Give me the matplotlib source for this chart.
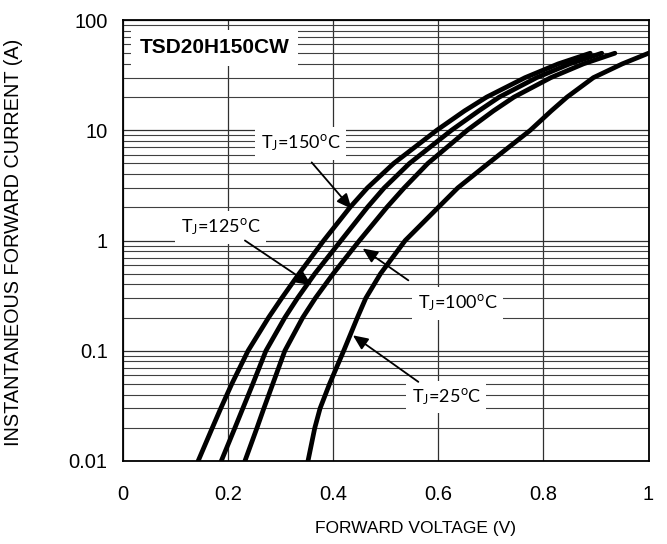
import numpy as np
import matplotlib
matplotlib.use("Agg")
import matplotlib.pyplot as plt
from matplotlib.ticker import LogLocator, FixedLocator, NullFormatter

plt.rcParams['font.family'] = ['Liberation Sans', 'DejaVu Sans']
plt.rcParams['mathtext.fontset'] = 'custom'
plt.rcParams['mathtext.rm'] = 'Lato'

# forward current points (A)
current = [0.01, 0.02, 0.03, 0.05, 0.1, 0.2, 0.3, 0.5, 1, 2, 3, 5, 10, 15, 20, 30, 40, 50]

# forward voltage (V) for each junction temperature
vf_150 = [0.143, 0.170, 0.186, 0.207, 0.238, 0.277, 0.302, 0.335, 0.382, 0.432, 0.465,
          0.515, 0.597, 0.650, 0.692, 0.765, 0.828, 0.889]
vf_125 = [0.187, 0.213, 0.228, 0.247, 0.272, 0.308, 0.332, 0.365, 0.415, 0.465, 0.497,
          0.545, 0.625, 0.677, 0.716, 0.787, 0.850, 0.911]
vf_100 = [0.232, 0.255, 0.268, 0.285, 0.308, 0.342, 0.366, 0.400, 0.450, 0.502, 0.535,
          0.580, 0.655, 0.705, 0.744, 0.814, 0.876, 0.936]
vf_25 = [0.352, 0.365, 0.375, 0.393, 0.420, 0.446, 0.462, 0.490, 0.537, 0.600, 0.637,
         0.695, 0.775, 0.815, 0.845, 0.895, 0.950, 1.0]

x_ticks = [0, 0.2, 0.4, 0.6, 0.8, 1]
x_labels = ['0', '0.2', '0.4', '0.6', '0.8', '1']
y_ticks = [0.01, 0.1, 1, 10, 100]
y_labels = ['0.01', '0.1', '1', '10', '100']

# label text, text position, arrow start, arrow tip
labels = [
    ('150', (0.338, 7.55), (0.359, 5.11), (0.435, 1.94)),
    ('125', (0.186, 1.32), (0.232, 1.0), (0.359, 0.392)),
    ('100', (0.637, 0.269), (0.543, 0.435), (0.456, 0.847)),
    ('25', (0.615, 0.0379), (0.562, 0.0522), (0.4375, 0.138)),
]

fig = plt.figure(figsize=(6.67, 5.44), dpi=100)
ax = fig.add_axes([0.1844, 0.1526, 0.7879, 0.8106])

for vf in [vf_150, vf_125, vf_100, vf_25]:
    ax.plot(vf, current, color='black', lw=3.4, solid_capstyle='round',
            solid_joinstyle='round', zorder=3)

ax.set_yscale('log')
ax.set_xlim(0, 1)
ax.set_ylim(0.01, 100)
ax.xaxis.set_major_locator(FixedLocator(x_ticks))
ax.set_xticklabels(x_labels)
ax.yaxis.set_major_locator(FixedLocator(y_ticks))
ax.set_yticklabels(y_labels)
ax.yaxis.set_minor_locator(LogLocator(base=10, subs=np.arange(2, 10)))
ax.yaxis.set_minor_formatter(NullFormatter())

ax.grid(True, which='major', axis='both', color='#303030', lw=0.9)
ax.grid(True, which='minor', axis='y', color='#404040', lw=0.8)
ax.tick_params(which='both', length=0, labelsize=14.5)
ax.tick_params(axis='y', pad=11)
ax.tick_params(axis='x', pad=17)
for s in ax.spines.values():
    s.set_linewidth(1.3)

ax.set_xlabel('FORWARD VOLTAGE (V)', fontsize=12.5)
ax.xaxis.set_label_coords(0.556, -0.135)
ax.set_ylabel('INSTANTANEOUS FORWARD CURRENT (A)', fontsize=14.3)
ax.yaxis.set_label_coords(-0.19, 0.495)

ax.text(0.032, 55.8, 'TSD20H150CW', fontsize=15, fontweight='bold', va='center', ha='left',
        bbox=dict(facecolor='white', edgecolor='none', pad=6), zorder=4)

for temp, txt_pos, start, tip in labels:
    ax.text(txt_pos[0], txt_pos[1], r'$\mathrm{T_J}$=' + temp + r'$^\mathrm{o}$C',
            family='Lato', fontsize=13, ha='center', va='center',
            bbox=dict(facecolor='white', edgecolor='none', pad=4), zorder=4)
    ax.annotate('', xy=tip, xytext=start,
                arrowprops=dict(arrowstyle='-|>,head_length=0.9,head_width=0.4',
                                color='black', lw=1.3, shrinkA=0, shrinkB=0),
                zorder=5)

fig.savefig('out.png', dpi=100)
